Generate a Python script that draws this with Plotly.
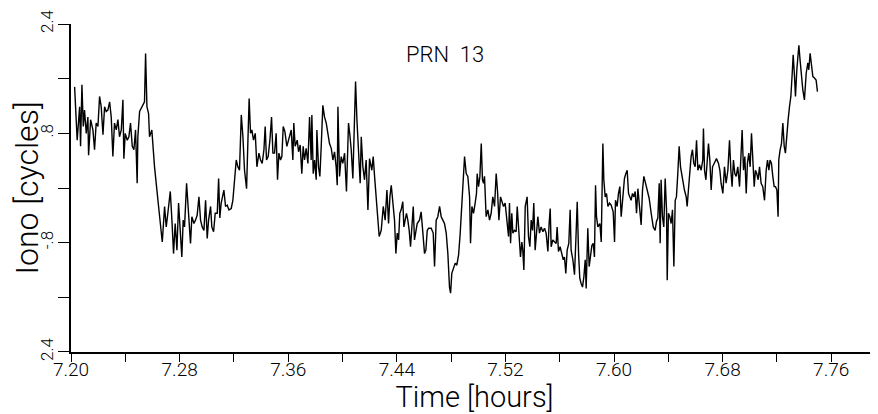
import plotly.graph_objects as go

# ---- data (time in hours, ionospheric delay in cycles) ----
time_h_a = [
    7.2026, 7.2045, 7.2063, 7.2070, 7.2080, 7.2090, 7.2099, 7.2112, 7.2124, 7.2129,
    7.2144, 7.2161, 7.2173, 7.2185, 7.2198, 7.2210, 7.2222, 7.2235, 7.2247, 7.2259,
    7.2271, 7.2284, 7.2296, 7.2308, 7.2320, 7.2333, 7.2345, 7.2357, 7.2370, 7.2382,
    7.2389, 7.2399, 7.2414, 7.2426, 7.2438, 7.2451, 7.2463, 7.2475, 7.2487, 7.2492,
    7.2505, 7.2529, 7.2541, 7.2549, 7.2559, 7.2571, 7.2578, 7.2595, 7.2615, 7.2640,
    7.2672, 7.2689, 7.2701, 7.2713, 7.2731, 7.2743, 7.2755, 7.2767, 7.2780, 7.2792,
    7.2804, 7.2816, 7.2826, 7.2836, 7.2851, 7.2866, 7.2880, 7.2890, 7.2905, 7.2917,
    7.2929, 7.2942, 7.2954, 7.2966, 7.2979, 7.2991, 7.3003, 7.3013, 7.3028, 7.3037,
    7.3050, 7.3062, 7.3077, 7.3087, 7.3096, 7.3106, 7.3118, 7.3126, 7.3138, 7.3150,
    7.3163, 7.3180, 7.3192, 7.3204, 7.3217, 7.3229, 7.3241, 7.3254, 7.3266, 7.3278,
    7.3293, 7.3303, 7.3312, 7.3322, 7.3332, 7.3344, 7.3357, 7.3369, 7.3384, 7.3396,
    7.3408, 7.3421, 7.3430, 7.3440, 7.3452, 7.3465, 7.3477, 7.3487, 7.3499, 7.3511,
    7.3521, 7.3531, 7.3543, 7.3553, 7.3563, 7.3575, 7.3590, 7.3602,
]
iono_a = [
    1.48, 0.70, 1.19, 0.61, 1.51, 0.90, 1.14, 0.80, 1.04, 0.48,
    1.00, 0.85, 0.56, 0.95, 0.90, 1.34, 1.19, 0.78, 1.19, 1.12,
    1.14, 1.26, 1.04, 0.46, 0.95, 0.85, 1.00, 0.75, 0.85, 1.29,
    0.43, 0.80, 0.70, 0.75, 0.95, 0.61, 0.56, 0.85, 0.07, 0.75,
    1.12, 1.22, 1.26, 1.97, 1.19, 1.09, 0.75, 0.85, 0.31, -0.18,
    -0.79, -0.27, -0.57, -0.37, -0.05, -0.47, -0.96, -0.52, -0.91, -0.22,
    -0.71, -1.01, -0.47, -0.57, 0.07, -0.47, -0.81, -0.42, -0.52, -0.47,
    -0.40, -0.13, -0.47, -0.57, -0.62, -0.18, -0.74, -0.47, -0.27, -0.57,
    -0.64, -0.37, -0.37, 0.14, -0.44, -0.22, -0.08, -0.03, -0.27, -0.25,
    -0.32, -0.30, -0.18, 0.12, 0.41, 0.31, 0.26, 1.07, 0.75, 0.26,
    -0.01, 0.70, 1.31, 0.80, 0.85, 0.70, 0.80, 0.31, 0.51, 0.41,
    0.36, 0.56, 0.90, 0.41, 0.46, 0.70, 1.04, 0.51, 0.51, 0.80,
    0.12, 0.51, 0.41, 0.46, 0.90, 0.83, 0.61, 0.70,
]
time_h_b = [
    7.3610, 7.3622, 7.3634, 7.3641, 7.3651, 7.3666, 7.3676, 7.3688, 7.3700, 7.3710,
    7.3720, 7.3732, 7.3745, 7.3757, 7.3769, 7.3774, 7.3784, 7.3794, 7.3806, 7.3811,
    7.3823, 7.3833, 7.3843, 7.3855, 7.3867, 7.3880, 7.3892, 7.3904, 7.3917, 7.3929,
    7.3941, 7.3953, 7.3961, 7.3966, 7.3978, 7.3990, 7.4002, 7.4015, 7.4029, 7.4044,
    7.4054, 7.4064, 7.4076, 7.4088, 7.4096, 7.4106, 7.4118, 7.4130, 7.4138, 7.4150,
    7.4162, 7.4174, 7.4187, 7.4199, 7.4216, 7.4226, 7.4236, 7.4248, 7.4260, 7.4270,
    7.4285, 7.4300, 7.4314, 7.4327, 7.4339, 7.4349, 7.4359, 7.4371, 7.4383, 7.4393,
    7.4403, 7.4413, 7.4422, 7.4432, 7.4444, 7.4452, 7.4462, 7.4471, 7.4481, 7.4491,
    7.4501, 7.4511, 7.4521, 7.4530, 7.4540, 7.4550, 7.4567, 7.4579, 7.4592, 7.4604,
    7.4614, 7.4624, 7.4634, 7.4653, 7.4668, 7.4678, 7.4690, 7.4702, 7.4715, 7.4727,
    7.4739, 7.4751, 7.4764, 7.4776, 7.4788, 7.4796, 7.4805, 7.4818, 7.4830, 7.4842,
    7.4855, 7.4867, 7.4879, 7.4891, 7.4899, 7.4911, 7.4923, 7.4936, 7.4943, 7.4953,
    7.4965, 7.4977, 7.4987, 7.4992, 7.5002, 7.5012, 7.5022, 7.5031, 7.5039, 7.5046,
    7.5058, 7.5071, 7.5083, 7.5095, 7.5107, 7.5120, 7.5132, 7.5142, 7.5152, 7.5164,
    7.5174, 7.5186, 7.5198, 7.5213, 7.5223,
]
iono_b = [
    0.75, 0.85, 0.41, 0.95, 0.61, 0.70, 0.53, 0.63, 0.21, 0.61,
    0.41, 0.58, 0.36, 1.04, 0.41, 1.07, 0.21, 0.41, 0.12, 0.85,
    0.31, 0.17, 0.61, 1.21, 1.04, 0.95, 0.80, 0.65, 0.58, 0.41,
    0.53, 0.31, 0.04, 1.19, 0.17, 0.46, 0.36, 0.51, -0.05, 0.95,
    0.78, 0.56, 0.14, 1.09, 1.56, 1.00, 0.51, 0.07, 0.75, 0.31,
    0.12, 0.41, -0.32, 0.43, 0.26, 0.46, 0.17, -0.13, -0.42, -0.71,
    -0.62, -0.27, -0.47, -0.03, -0.52, -0.13, 0.04, -0.27, -0.47, -0.96,
    -0.66, -0.76, -0.37, -0.32, -0.20, -0.57, -0.44, -0.37, -0.47, -0.62,
    -0.86, -0.47, -0.27, -0.76, -0.66, -0.52, -0.47, -0.35, -0.66, -0.96,
    -0.91, -0.62, -0.59, -0.59, -0.66, -1.15, -0.47, -0.42, -0.27, -0.42,
    -0.47, -0.52, -0.66, -0.96, -1.45, -1.54, -1.25, -1.18, -1.10, -1.13,
    -0.98, -0.66, -0.27, 0.12, 0.46, 0.21, 0.17, -0.13, -0.81, -0.27,
    -0.37, -0.22, -0.08, 0.21, 0.02, 0.17, 0.65, 0.12, 0.07, 0.17,
    -0.42, -0.32, -0.47, -0.37, -0.13, -0.27, 0.21, -0.05, -0.47, -0.13,
    -0.20, -0.27, -0.22, -0.47, -0.71,
]
time_h_c = [
    7.5230, 7.5238, 7.5247, 7.5255, 7.5267, 7.5279, 7.5287, 7.5297, 7.5311, 7.5321,
    7.5328, 7.5336, 7.5346, 7.5360, 7.5370, 7.5380, 7.5390, 7.5400, 7.5409, 7.5419,
    7.5429, 7.5439, 7.5451, 7.5463, 7.5476, 7.5488, 7.5500, 7.5513, 7.5522, 7.5530,
    7.5537, 7.5549, 7.5562, 7.5574, 7.5581, 7.5591, 7.5603, 7.5616, 7.5626, 7.5635,
    7.5645, 7.5655, 7.5667, 7.5677, 7.5684, 7.5697, 7.5709, 7.5719, 7.5729, 7.5739,
    7.5748, 7.5758, 7.5768, 7.5778, 7.5788, 7.5795, 7.5807, 7.5817, 7.5827, 7.5837,
    7.5847, 7.5856, 7.5864, 7.5871, 7.5881, 7.5896, 7.5906, 7.5913, 7.5918, 7.5925,
    7.5935, 7.5945, 7.5955, 7.5967, 7.5979, 7.5994, 7.6004, 7.6011, 7.6023, 7.6033,
    7.6043, 7.6053, 7.6065, 7.6077, 7.6087, 7.6097, 7.6107, 7.6117, 7.6126, 7.6136,
    7.6146, 7.6156, 7.6166, 7.6176, 7.6188, 7.6200, 7.6210, 7.6220, 7.6230, 7.6244,
    7.6259, 7.6274, 7.6289, 7.6303, 7.6313, 7.6323, 7.6333, 7.6340, 7.6347, 7.6357,
    7.6367, 7.6377, 7.6387, 7.6392, 7.6401, 7.6411, 7.6421, 7.6431, 7.6441, 7.6451,
    7.6460, 7.6470, 7.6480, 7.6490, 7.6500, 7.6510, 7.6519, 7.6532, 7.6539, 7.6549,
    7.6559, 7.6568, 7.6578, 7.6588, 7.6598, 7.6608, 7.6618, 7.6630, 7.6642, 7.6654,
    7.6659, 7.6667, 7.6677, 7.6686, 7.6696, 7.6706, 7.6716, 7.6726, 7.6740, 7.6755,
    7.6770, 7.6780, 7.6789, 7.6802, 7.6814,
]
iono_c = [
    -0.22, -0.81, -0.37, -0.66, -0.62, -0.64, -0.27, -0.66, -1.01, -0.79,
    -0.91, -1.20, -0.27, -0.13, -0.71, -0.86, -0.47, -0.62, -0.22, -0.91,
    -0.57, -0.42, -0.66, -0.57, -0.64, -0.59, -0.66, -0.93, -0.52, -0.30,
    -0.86, -0.76, -0.79, -0.81, -0.57, -0.93, -0.86, -0.96, -1.05, -1.01,
    -1.25, -0.91, -0.81, -0.32, -0.91, -1.05, -1.27, -0.76, -0.20, -0.96,
    -1.32, -1.40, -1.45, -1.30, -1.05, -1.47, -0.59, -1.15, -1.01, -0.84,
    -0.81, -1.01, 0.04, -0.42, -0.57, -0.52, -0.79, 0.07, 0.65, 0.12,
    -0.13, -0.08, -0.27, -0.22, -0.25, -0.35, -0.79, -0.18, -0.27, -0.08,
    0.02, -0.42, -0.08, 0.14, 0.21, 0.26, -0.08, -0.13, -0.18, -0.08,
    -0.13, -0.05, -0.37, -0.01, -0.27, -0.54, -0.03, 0.17, 0.09, -0.01,
    -0.15, -0.37, -0.57, -0.62, -0.49, -0.44, 0.07, -0.81, 0.12, -0.42,
    -0.57, 0.14, -0.32, -1.35, -0.37, -0.42, -0.52, -0.32, -1.15, -0.18,
    -0.13, 0.21, 0.61, 0.31, 0.17, 0.07, -0.03, -0.13, -0.27, -0.01,
    0.26, 0.46, 0.56, 0.36, 0.31, 0.70, 0.26, 0.34, 0.26, 0.41,
    0.87, 0.26, 0.12, 0.41, 0.65, 0.41, -0.03, 0.31, 0.36, 0.43,
    0.36, 0.26, 0.07, -0.08, 0.31,
]
time_h_d = [
    7.6826, 7.6839, 7.6851, 7.6861, 7.6870, 7.6880, 7.6890, 7.6900, 7.6912, 7.6925,
    7.6934, 7.6944, 7.6954, 7.6964, 7.6974, 7.6983, 7.6993, 7.7003, 7.7013, 7.7023,
    7.7033, 7.7042, 7.7052, 7.7062, 7.7072, 7.7084, 7.7096, 7.7109, 7.7121, 7.7131,
    7.7141, 7.7150, 7.7160, 7.7170, 7.7180, 7.7190, 7.7200, 7.7209, 7.7214, 7.7224,
    7.7234, 7.7244, 7.7254, 7.7263, 7.7273, 7.7283, 7.7293, 7.7303, 7.7313, 7.7320,
    7.7330, 7.7337, 7.7347, 7.7354, 7.7362, 7.7371, 7.7381, 7.7391, 7.7403, 7.7416,
    7.7428, 7.7435, 7.7445, 7.7455, 7.7465, 7.7477, 7.7489, 7.7499,
]
iono_d = [
    0.07, 0.26, 0.70, 0.26, 0.02, 0.41, 0.21, 0.17, 0.31, 0.02,
    0.41, 0.85, 0.26, 0.46, -0.08, 0.36, 0.51, 0.31, 0.80, 0.41,
    0.02, 0.26, 0.21, 0.12, 0.31, 0.07, 0.02, -0.18, 0.26, 0.41,
    0.26, 0.41, 0.36, 0.17, 0.02, 0.02, -0.03, -0.42, 0.41, 0.56,
    0.65, 0.95, 0.61, 0.51, 0.85, 1.00, 1.19, 1.34, 1.68, 1.95,
    1.63, 1.34, 1.73, 1.87, 2.09, 1.87, 1.58, 1.44, 1.29, 1.68,
    1.83, 1.73, 1.97, 1.78, 1.63, 1.61, 1.58, 1.41,
]

x_tick_vals = [7.20, 7.24, 7.28, 7.32, 7.36, 7.40, 7.44, 7.48, 7.52, 7.56, 7.60, 7.64, 7.68, 7.72, 7.76]
x_tick_text = ["7.20", "", "7.28", "", "7.36", "", "7.44", "", "7.52", "", "7.60", "", "7.68", "", "7.76"]
y_tick_vals = [-2.4, -1.6, -0.8, 0.0, 0.8, 1.6, 2.4]
y_tick_text = ["2.4", "", "-.8", "", ".8", "", "2.4"]

time_h = time_h_a + time_h_b + time_h_c + time_h_d
iono = iono_a + iono_b + iono_c + iono_d

FONT = "Roboto"

fig = go.Figure(
    go.Scatter(x=time_h, y=iono, mode="lines",
               line=dict(color="black", width=1.4), hoverinfo="skip")
)

# the page body has an 8 px default margin, so the figure is sized 8 px smaller
fig.update_layout(
    width=870, height=406,
    margin=dict(l=63, r=0, t=16, b=62, autoexpand=False),
    paper_bgcolor="white", plot_bgcolor="white",
    showlegend=False,
    font=dict(family=FONT, color="black"),
    annotations=[dict(text="PRN\u00a0\u00a013", xref="paper", yref="paper",
                      x=0.4634, y=0.9055, showarrow=False,
                      font=dict(family=FONT, size=22, color="black", weight=300),
                      xanchor="center", yanchor="middle")],
)

fig.update_xaxes(
    range=[7.19995, 7.7945], automargin=False,
    tickvals=x_tick_vals, ticktext=x_tick_text,
    ticks="outside", ticklen=8, tickwidth=1.2, tickcolor="black",
    ticklabelstandoff=-9,
    showline=True, linecolor="black", linewidth=1.5,
    showgrid=False, zeroline=False,
    tickfont=dict(family=FONT, size=19, color="black", weight=300),
    title=dict(text="Time [hours]", standoff=8,
               font=dict(family=FONT, size=29, color="black", weight=300)),
)
fig.update_yaxes(
    range=[-2.4005, 2.4005], automargin=False,
    tickvals=y_tick_vals, ticktext=y_tick_text, tickangle=-90,
    ticks="outside", ticklen=11, tickwidth=1.2, tickcolor="black",
    ticklabelstandoff=-2,
    showline=True, linecolor="black", linewidth=1.5,
    showgrid=False, zeroline=False,
    tickfont=dict(family=FONT, size=17, color="black", weight=300),
    title=dict(text="Iono [cycles]", standoff=18,
               font=dict(family=FONT, size=32, color="black", weight=300)),
)

fig.write_html("out.html")
